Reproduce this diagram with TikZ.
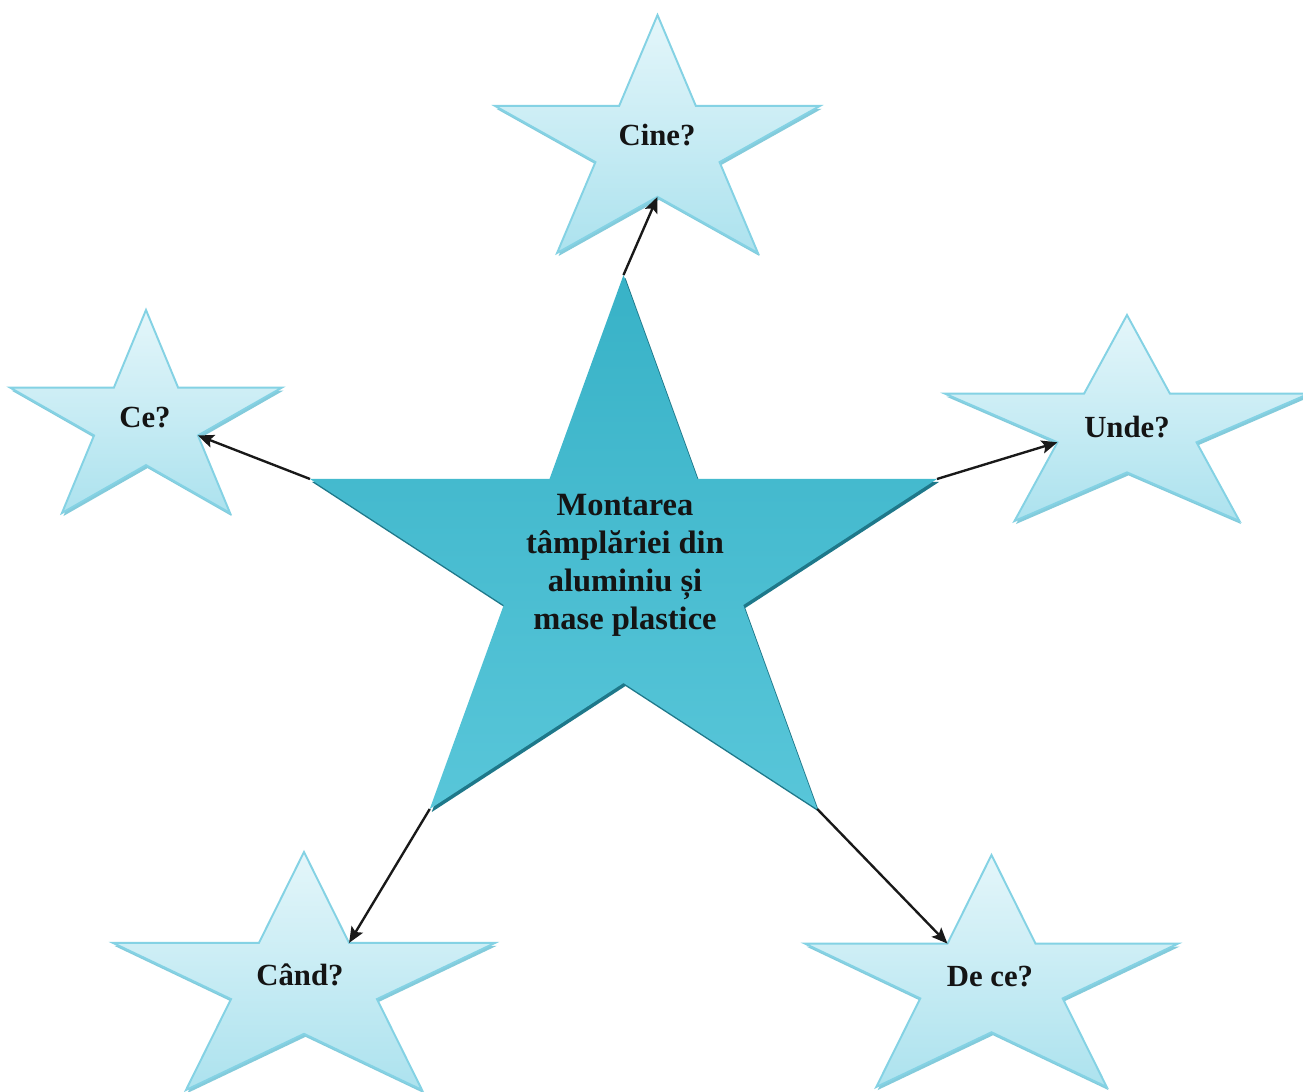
\documentclass[tikz,border=0pt]{standalone}
\usepackage{fontspec}
\setmainfont{Liberation Serif}
\usetikzlibrary{arrows.meta}
\definecolor{bigtop}{RGB}{56,178,199}
\definecolor{bigbot}{RGB}{88,198,217}
\definecolor{bigshadow}{RGB}{30,120,138}
\definecolor{smtop}{RGB}{228,246,250}
\definecolor{smbot}{RGB}{172,226,238}
\definecolor{smedge}{RGB}{132,210,228}
\definecolor{smshadow}{RGB}{100,190,210}
% star polygon: name, x-left, y-top, width, height, style
\newcommand{\qstar}[6]{%
  \path[#6]
    ({#2+0.5*#4},{#3}) coordinate (#1-t)
 -- ({#2+0.618*#4},{#3+0.382*#5}) coordinate (#1-ir)
 -- ({#2+#4},{#3+0.382*#5}) coordinate (#1-r)
 -- ({#2+0.691*#4},{#3+0.618*#5}) coordinate (#1-lr)
 -- ({#2+0.809*#4},{#3+#5}) coordinate (#1-br)
 -- ({#2+0.5*#4},{#3+0.764*#5}) coordinate (#1-b)
 -- ({#2+0.191*#4},{#3+#5}) coordinate (#1-bl)
 -- ({#2+0.309*#4},{#3+0.618*#5}) coordinate (#1-ll)
 -- ({#2},{#3+0.382*#5}) coordinate (#1-l)
 -- ({#2+0.382*#4},{#3+0.382*#5}) coordinate (#1-il)
 -- cycle;}
\tikzset{
  bigstar/.style={top color=bigtop, bottom color=bigbot, draw=none},
  bigshade/.style={fill=bigshadow, draw=none},
  smallstar/.style={top color=smtop, bottom color=smbot, draw=smedge, line width=1.1pt, line join=miter},
  smallshade/.style={fill=smshadow, draw=none, opacity=0.8},
  qlabel/.style={font=\fontsize{17.5}{20}\selectfont\bfseries, text=black!92, inner sep=0pt},
  mainlabel/.style={font=\fontsize{18.5}{21.6}\selectfont\bfseries, text=black!92, align=center, inner sep=0pt},
  arr/.style={-{Stealth[length=9pt,width=7.5pt,inset=1.8pt]}, line width=1.35pt, black!90},
}
\begin{document}
\begin{tikzpicture}[x=0.02cm,y=-0.02cm]
\useasboundingbox (0,0) rectangle (1303,1092);
\fill[white] (0,0) rectangle (1303,1092);
% small stars
\begin{scope}[shift={(1.5,3)}]
\qstar{cineS}{495}{15}{325}{238}{smallshade}
\qstar{ceS}{10}{310}{272}{203}{smallshade}
\qstar{undeS}{945}{315}{364}{206}{smallshade}
\qstar{candS}{113}{852}{382}{238}{smallshade}
\qstar{deceS}{805}{855}{373}{232}{smallshade}
\end{scope}
\qstar{cine}{495}{15}{325}{238}{smallstar}
\qstar{ce}{10}{310}{272}{203}{smallstar}
\qstar{unde}{945}{315}{364}{206}{smallstar}
\qstar{cand}{113}{852}{382}{238}{smallstar}
\qstar{dece}{805}{855}{373}{232}{smallstar}
% central star
\begin{scope}[shift={(2,3)}]
\qstar{mainS}{310}{275}{627}{534}{bigshade}
\end{scope}
\qstar{main}{310}{275}{627}{534}{bigstar}
% labels
\node[qlabel] (tcine) at (657,135) {Cine?};
\node[qlabel] (tce) at (145,418) {Ce?};
\node[qlabel] (tunde) at (1127,427) {Unde?};
\node[qlabel] (tcand) at (300,975) {Când?};
\node[qlabel] (tdece) at (990,977) {De ce?};
\node[mainlabel] (tmain) at (625,565) {Montarea\\tâmplăriei din\\aluminiu și\\mase plastice};
% connectors
\draw[arr] (main-t) -- (cine-b);
\draw[arr] (main-l) -- (ce-lr);
\draw[arr] (main-r) -- (unde-ll);
\draw[arr] (main-bl) -- (cand-ir);
\draw[arr] (main-br) -- (dece-il);
\end{tikzpicture}
\end{document}
